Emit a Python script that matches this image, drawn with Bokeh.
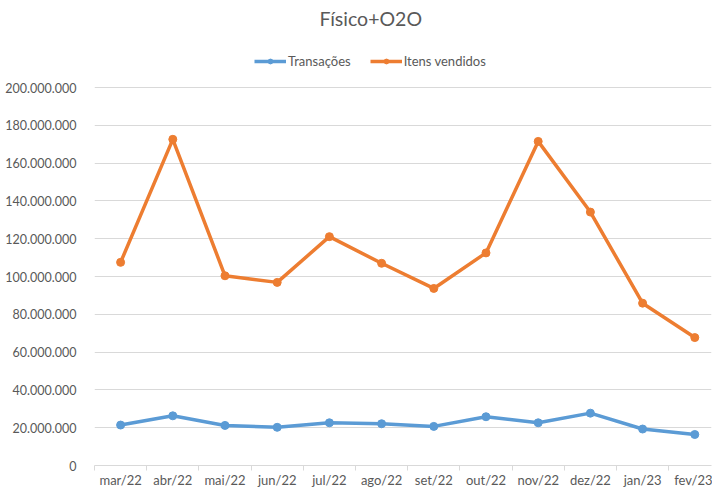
from bokeh.plotting import figure
from bokeh.models import (Range1d, FixedTicker, CustomJSTickFormatter, Legend, LegendItem,
                          ColumnDataSource)
from bokeh.embed import file_html
from bokeh.resources import INLINE

months = ["mar/22", "abr/22", "mai/22", "jun/22", "jul/22", "ago/22",
          "set/22", "out/22", "nov/22", "dez/22", "jan/23", "fev/23"]
transacoes = [21.4e6, 26.3e6, 21.2e6, 20.2e6, 22.6e6, 22.1e6,
              20.7e6, 25.8e6, 22.6e6, 27.7e6, 19.3e6, 16.4e6]
itens_vendidos = [107.5e6, 172.6e6, 100.4e6, 96.9e6, 121.1e6, 107.0e6,
                  93.7e6, 112.5e6, 171.5e6, 134.1e6, 85.9e6, 67.7e6]
y_ticks = [0, 20e6, 40e6, 60e6, 80e6, 100e6, 120e6, 140e6, 160e6, 180e6, 200e6]

FONT = "Lato"
GRAY = "#595959"
BLUE = "#5B9BD5"
ORANGE = "#ED7D31"

x = [i + 0.5 for i in range(len(months))]
src = ColumnDataSource(dict(x=x, t=transacoes, it=itens_vendidos))

p = figure(width=712, height=490, output_backend="svg", toolbar_location=None,
           x_range=Range1d(0, 11.82), y_range=Range1d(0, 228.6e6),
           min_border_left=94, min_border_right=1, min_border_top=2, min_border_bottom=23)
p.outline_line_color = None
p.background_fill_color = "white"
p.border_fill_color = "white"

l1 = p.line("x", "t", source=src, line_color=BLUE, line_width=3.5)
c1 = p.scatter("x", "t", source=src, size=8, fill_color=BLUE, line_color=BLUE)
l2 = p.line("x", "it", source=src, line_color=ORANGE, line_width=3.5)
c2 = p.scatter("x", "it", source=src, size=8, fill_color=ORANGE, line_color=ORANGE)

# title
p.title.text = "Físico+O2O"
p.title.align = "left"
p.title.offset = 225
p.title.standoff = 8
p.title.text_font = FONT
p.title.text_font_size = "19.5px"
p.title.text_font_style = "normal"
p.title.text_color = GRAY

legend = Legend(items=[LegendItem(label="Transações", renderers=[l1, c1]),
                       LegendItem(label="Itens vendidos", renderers=[l2, c2])],
                orientation="horizontal", location=(160, 396),
                border_line_color=None, background_fill_alpha=0,
                label_text_font=FONT, label_text_font_size="13px", label_text_color=GRAY,
                glyph_width=32, glyph_height=12, spacing=19, padding=2, margin=0,
                label_standoff=2)
p.add_layout(legend)

# y axis
p.yaxis.ticker = FixedTicker(ticks=y_ticks)
p.yaxis.formatter = CustomJSTickFormatter(code="""
return Math.round(tick).toString().replace(/\\B(?=(\\d{3})+(?!\\d))/g, ".");
""")
p.yaxis.axis_line_color = None
p.yaxis.major_tick_line_color = None
p.yaxis.minor_tick_line_color = None
p.yaxis.major_label_standoff = 12
p.yaxis.major_label_text_font = FONT
p.yaxis.major_label_text_font_size = "12.5px"
p.yaxis.major_label_text_color = GRAY

# x axis
p.xaxis.ticker = FixedTicker(ticks=x, minor_ticks=list(range(len(months) + 1)))
p.xaxis.major_label_overrides = {xi: m for xi, m in zip(x, months)}
p.xaxis.axis_line_color = "#D9D9D9"
p.xaxis.major_tick_line_color = None
p.xaxis.major_tick_out = 0
p.xaxis.major_tick_in = 0
p.xaxis.minor_tick_line_color = "#D9D9D9"
p.xaxis.minor_tick_out = 5
p.xaxis.minor_tick_in = 0
p.xaxis.major_label_standoff = 1
p.xaxis.axis_label_standoff = 0
p.xaxis.major_label_text_font = FONT
p.xaxis.major_label_text_font_size = "13px"
p.xaxis.major_label_text_color = GRAY

p.xgrid.grid_line_color = None
p.ygrid.ticker = FixedTicker(ticks=y_ticks)
p.ygrid.grid_line_color = "#D9D9D9"

open("out.html", "w").write(file_html(p, INLINE))
